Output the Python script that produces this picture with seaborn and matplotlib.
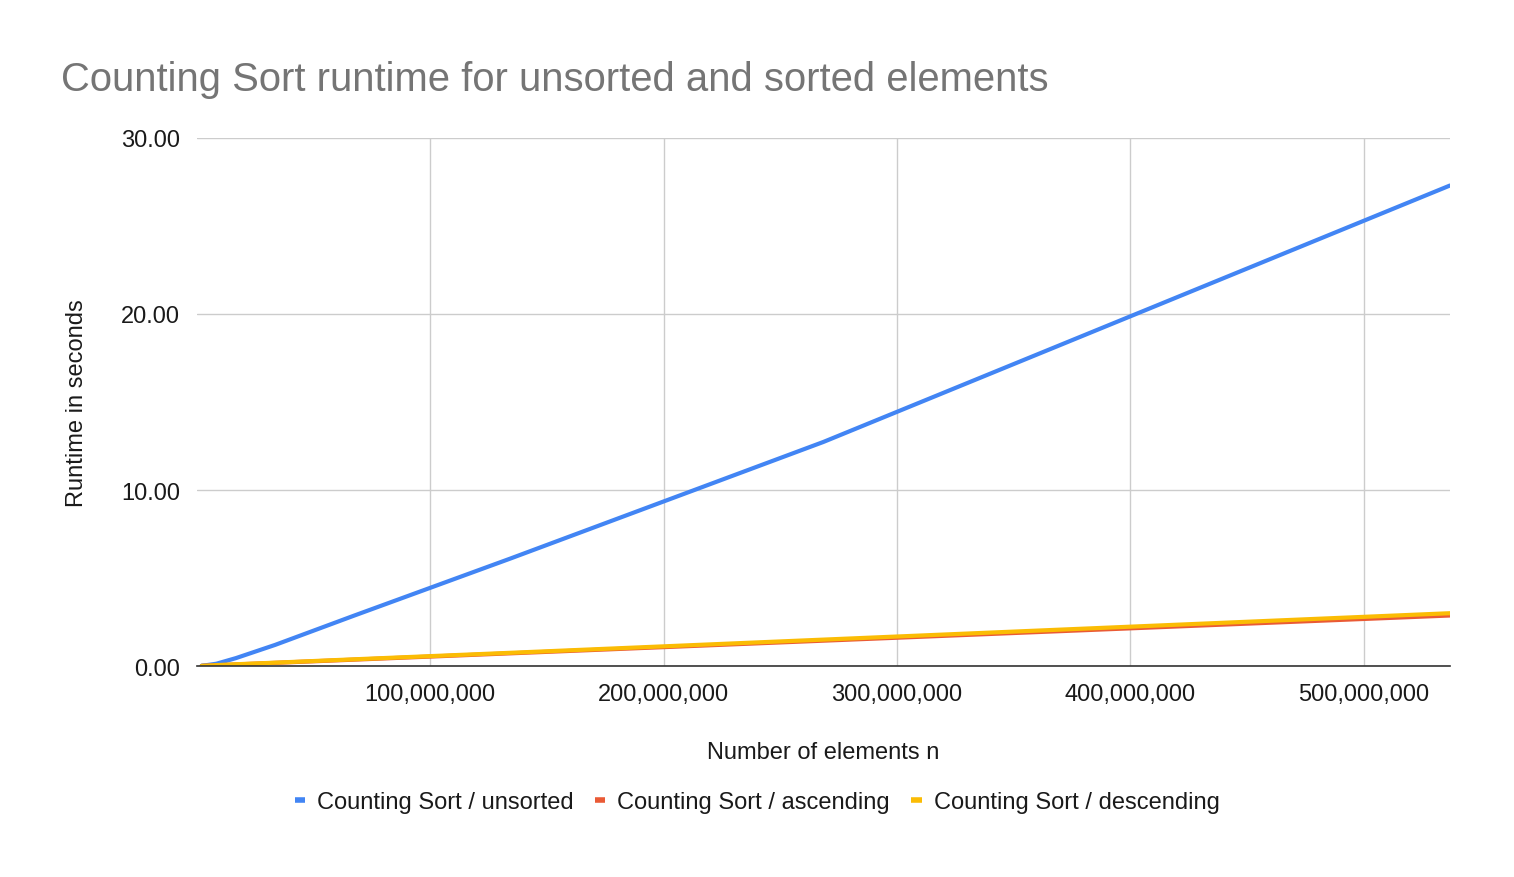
import numpy as np
import pandas as pd
import matplotlib
matplotlib.use("Agg")
import matplotlib.pyplot as plt
import seaborn as sns
from matplotlib.ticker import FuncFormatter

# %% Data
n_elements = [2**21, 2**22, 2**23, 2**24, 2**25, 2**26, 2**27, 2**28, 2**29]
unsorted = [0.02, 0.05, 0.13, 0.45, 1.20, 2.85, 6.10, 12.73, 27.30]
ascending = [0.01, 0.02, 0.04, 0.09, 0.18, 0.36, 0.72, 1.44, 2.87]
descending = [0.01, 0.02, 0.05, 0.10, 0.19, 0.38, 0.75, 1.50, 3.00]

series_names = ["Counting Sort / unsorted", "Counting Sort / ascending",
                "Counting Sort / descending"]
colors = ["#4285F4", "#EA5A35", "#FBBC04"]

df = pd.concat([
    pd.DataFrame({"n": n_elements, "runtime": vals, "series": name})
    for name, vals in zip(series_names, [unsorted, ascending, descending])
])

# %% Plot
sns.set_style("white")
plt.rcParams["font.family"] = ["Liberation Sans", "DejaVu Sans"]

fig = plt.figure(figsize=(15.14, 8.78), dpi=100)
ax = fig.add_axes([0.130, 0.2403, 0.8277, 0.6014])

sns.lineplot(data=df, x="n", y="runtime", hue="series", hue_order=series_names,
             palette=colors, linewidth=3, ax=ax, legend=False)

ax.set_xlim(0, 2**29)
ax.set_ylim(0, 30)
ax.set_yticks([0, 10, 20, 30])
ax.set_xticks([100e6, 200e6, 300e6, 400e6, 500e6])
ax.yaxis.set_major_formatter(FuncFormatter(lambda v, p: f"{v:.2f}"))
ax.xaxis.set_major_formatter(FuncFormatter(lambda v, p: f"{v:,.0f}"))
ax.grid(True, color="#cccccc", linewidth=1)
ax.set_axisbelow(True)
ax.tick_params(length=0, labelsize=17, colors="#1a1a1a", pad=12)
for side in ["left", "right", "top"]:
    ax.spines[side].set_visible(False)
ax.spines["bottom"].set_color("#333333")
ax.spines["bottom"].set_linewidth(1.2)

# Labels
ax.set_xlabel("Number of elements n", fontsize=17, color="#1a1a1a", labelpad=26)
ax.set_ylabel("Runtime in seconds", fontsize=17, color="#1a1a1a", labelpad=24)
fig.text(0.040, 0.909, "Counting Sort runtime for unsorted and sorted elements",
         fontsize=28.8, color="#757575", va="center", ha="left")

handles = [plt.Line2D([], [], color=c, linewidth=4, solid_capstyle="butt")
           for c in colors]
fig.legend(handles, series_names, loc="center", bbox_to_anchor=(0.5, 0.0854),
           ncol=3, frameon=False, fontsize=17, handlelength=0.45,
           handletextpad=0.5, columnspacing=0.9, labelcolor="#1a1a1a")

fig.savefig("out.png", dpi=100)
